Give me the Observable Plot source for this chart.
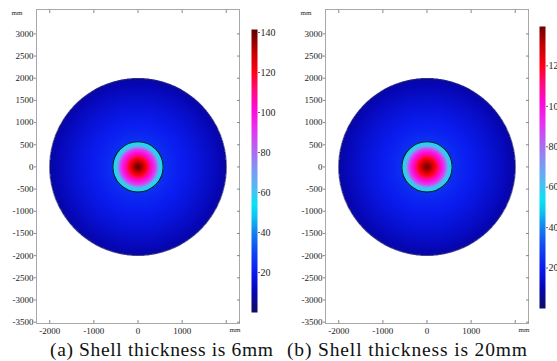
<!DOCTYPE html>
<html>
<head>
<meta charset="utf-8">
<script src="https://cdn.jsdelivr.net/npm/d3@7"></script>
<script src="https://cdn.jsdelivr.net/npm/@observablehq/plot@0.6"></script>
<style>
  html, body { margin: 0; padding: 0; background: #fff; overflow: hidden; }
  #wrap { position: relative; width: 557px; height: 361px; overflow: hidden; }
  #wrap > * { position: absolute; }
</style>
</head>
<body>
<div id="wrap"></div>
<script>
// ---- data ----
const panels = ["(a) Shell thickness is 6mm", "(b) Shell thickness is 20mm"];
const xTickLabels = [-2000, -1000, 0, 1000];
const xTickMarks = [-2000, -1000, 0, 1000, 2000];
const yTickLabels = [3000, 2500, 2000, 1500, 1000, 500, 0, -500, -1000, -1500, -2000, -2500, -3000, -3500];
const colorTicks = [20, 40, 60, 80, 100, 120, 140];
const colorStops = [0, 10, 20, 30, 40, 48, 54, 62, 72, 82, 92, 102, 111, 120, 130, 141.5];
const colorHex = ["#0e0e62", "#0606b4", "#0a1cf0", "#1046f2", "#1482f0", "#0cc4f0", "#08e4f2", "#50bcf2", "#8096f2", "#b464f0", "#e830f0", "#ff08d8", "#ff0a80", "#ff0018", "#c80000", "#5c0000"];
const outerRadius = 2000;
const innerRadius = 570;
// radial temperature profiles (mm, value)
const innerR = [0, 90, 200, 300, 400, 440, 475, 570];
const innerT6 = [141, 134, 120, 104, 88, 75, 62, 52];
const innerT20 = [139, 133, 120, 105, 89, 76, 63, 53];
const outerR = [570, 700, 1000, 1400, 1800, 2000];
const outerT6 = [25, 23, 20, 16, 11, 8];
const outerT20 = [25, 23, 20, 16, 11, 8];
const colorMax = [141.5, 139.5];

const W = 280, H = 340;
const mL = 36, mR = 41, mT = 9, mB = 17;
const xDom = [-2300, 2300], yDom = [-3530, 3550];
const pxPerUnit = (W - mL - mR) / (xDom[1] - xDom[0]);
const FONT = '"Liberation Serif", Tinos, "Times New Roman", "DejaVu Serif", serif';

function panel(innerT, outerT, cmax) {
  const fi = d3.scaleLinear(innerR, innerT).clamp(true);
  const fo = d3.scaleLinear(outerR, outerT).clamp(true);
  const field = (x, y) => {
    const r = Math.hypot(x, y);
    if (r > outerRadius) return NaN;
    return r <= innerRadius ? fi(r) : fo(r);
  };
  const rings = [{radius: outerRadius, stroke: "#14145a", sw: 0.6}, {radius: innerRadius, stroke: "#0a1a28", sw: 1.1}];
  return Plot.plot({
    width: W, height: H,
    marginLeft: mL, marginRight: mR, marginTop: mT, marginBottom: mB,
    style: {fontFamily: FONT, fontSize: "9px", background: "transparent", color: "#222"},
    x: {domain: xDom},
    y: {domain: yDom},
    r: {type: "linear", domain: [0, 2300], range: [0, 2300 * pxPerUnit]},
    color: {type: "linear", domain: colorStops, range: colorHex, clamp: true},
    marks: [
      Plot.raster({x1: -outerRadius, x2: outerRadius, y1: -outerRadius, y2: outerRadius, fill: field, pixelSize: 0.5}),
      Plot.dot(rings, {x: () => 0, y: () => 0, r: "radius", stroke: "stroke", strokeWidth: "sw", fill: "none"}),
      Plot.frame({stroke: "#a8a8a8"}),
      Plot.axisY({anchor: "left", ticks: yTickLabels, tickSize: 2, tickPadding: 1, stroke: "#888", tickFormat: d => `${d}`, label: null}),
      Plot.axisY({anchor: "right", ticks: yTickLabels, tickSize: 3, dx: -3, stroke: "#888", text: null, label: null}),
      Plot.axisX({anchor: "bottom", ticks: xTickLabels, tickSize: 0, tickPadding: 4, tickFormat: d => `${d}`, label: null}),
      Plot.axisX({anchor: "bottom", ticks: xTickMarks, tickSize: 3, dy: -3, stroke: "#888", text: null, label: null}),
      Plot.axisX({anchor: "top", ticks: xTickMarks, tickSize: 3, dy: 3, stroke: "#888", text: null, label: null}),
      Plot.text(["mm"], {frameAnchor: "top-left", textAnchor: "end", dx: -14, dy: 1, fontSize: 7, fill: "#222"}),
      Plot.text(["mm"], {frameAnchor: "bottom-right", textAnchor: "end", dx: 1, dy: 8, fontSize: 7, fill: "#222"})
    ]
  });
}

function colorbar(cmax, top, bottom) {
  return Plot.plot({
    width: 36, height: H,
    marginLeft: 0, marginRight: 30, marginTop: top, marginBottom: H - bottom,
    style: {fontFamily: FONT, fontSize: "10px", background: "transparent", color: "#222"},
    x: {domain: [0, 1], axis: null},
    y: {domain: [0, cmax], axis: null},
    color: {type: "linear", domain: colorStops, range: colorHex, clamp: true},
    marks: [
      Plot.raster({x1: 0, x2: 1, y1: 0, y2: cmax, fill: (x, y) => y, pixelSize: 1}),
      Plot.axisY({anchor: "right", ticks: colorTicks.filter(t => t <= cmax), tickSize: 2, tickPadding: 1, stroke: "#666", tickFormat: d => `${d}`, label: null})
    ]
  });
}

const wrap = document.getElementById("wrap");
const p1 = panel(innerT6, outerT6, colorMax[0]);
p1.style.left = "0px"; p1.style.top = "0px";
wrap.appendChild(p1);
const c1 = colorbar(colorMax[0], 29, 312);
c1.style.left = "251px"; c1.style.top = "0px";
wrap.appendChild(c1);
const p2 = panel(innerT20, outerT20, colorMax[1]);
p2.style.left = "289px"; p2.style.top = "0px";
wrap.appendChild(p2);
const c2 = colorbar(colorMax[1], 26, 308);
c2.style.left = "539px"; c2.style.top = "0px";
wrap.appendChild(c2);

// caption
const ns = "http://www.w3.org/2000/svg";
const cap = document.createElementNS(ns, "svg");
cap.setAttribute("width", 557); cap.setAttribute("height", 361);
cap.style.left = "0px"; cap.style.top = "0px"; cap.style.pointerEvents = "none";
[[50, 223, panels[0]], [287, 240, panels[1]]].forEach(([x, len, t]) => {
  const el = document.createElementNS(ns, "text");
  el.setAttribute("x", x); el.setAttribute("y", 356);
  el.setAttribute("font-size", "19.5");
  el.setAttribute("font-family", FONT);
  el.setAttribute("textLength", len);
  el.setAttribute("lengthAdjust", "spacing");
  el.setAttribute("fill", "#111");
  el.textContent = t;
  cap.appendChild(el);
});
wrap.appendChild(cap);
</script>
</body>
</html>
